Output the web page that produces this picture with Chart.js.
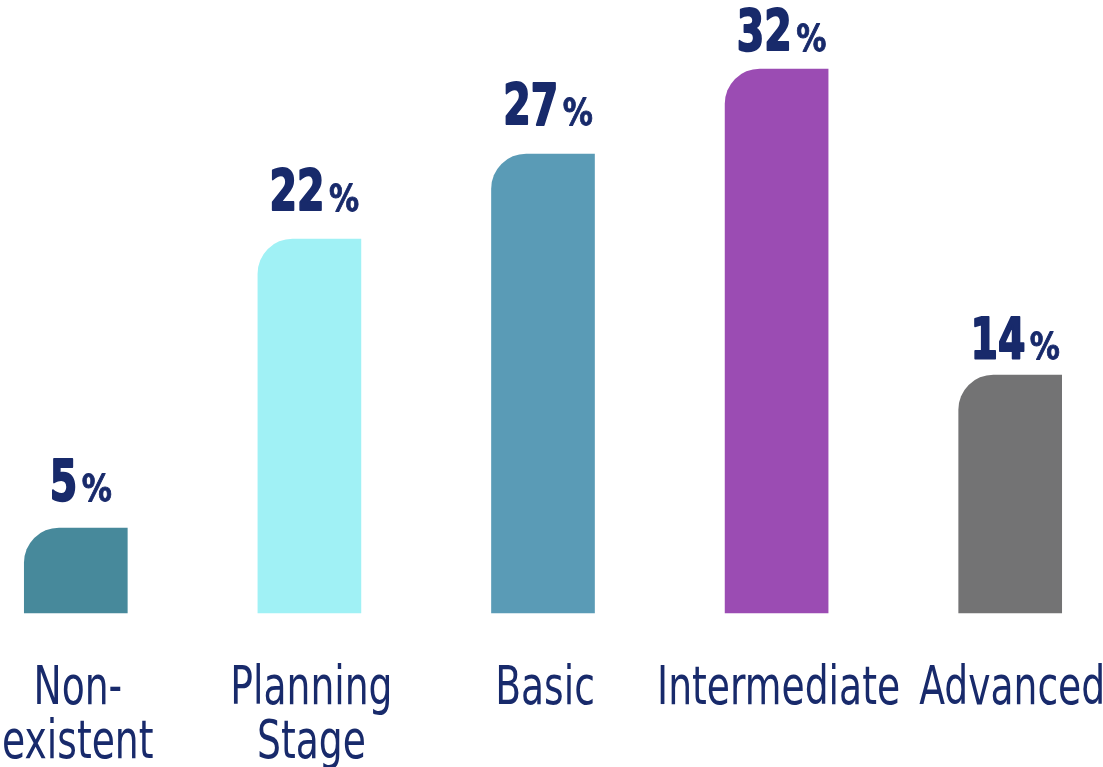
<!DOCTYPE html>
<html>
<head>
<meta charset="utf-8">
<script src="https://cdn.jsdelivr.net/npm/chart.js@4"></script>
<style>
  html, body { margin: 0; padding: 0; background: #fff; overflow: hidden; }
  #wrap { position: absolute; left: -41px; top: 0; width: 1168px; height: 767px; }
</style>
</head>
<body>
<div id="wrap"><canvas id="maturityChart"></canvas></div>
<script>
// ─── Data ─────────────────────────────────────────────────────────────────────
const categories = [['Non-', 'existent'], ['Planning', 'Stage'], ['Basic'], ['Intermediate'], ['Advanced']];
const shares = [5, 22, 27, 32, 14];
const barColors = ['#47899B', '#A0F1F5', '#5A9BB6', '#9B4CB3', '#737374'];
// how far each value label sits above its bar (px)
const labelLift = [27, 28, 29, 18, 16];

const NAVY = '#182A6B';
const FONT = "'DejaVu Sans', sans-serif";

// draws text squeezed horizontally by sx; optional outline makes it heavier
function squeezedText(ctx, text, x, y, sx, align, outline) {
    ctx.save();
    ctx.translate(x, y);
    ctx.scale(sx, 1);
    ctx.textAlign = align;
    ctx.fillText(text, 0, 0);
    if (outline) {
        ctx.lineWidth = outline;
        ctx.lineJoin = 'round';
        ctx.strokeStyle = ctx.fillStyle;
        ctx.strokeText(text, 0, 0);
    }
    ctx.restore();
}

// ─── Value labels: big number + small % sign above each bar ──────────────────
const valueLabels = {
    id: 'valueLabels',
    afterDatasetsDraw(chart) {
        const { ctx } = chart;
        const meta = chart.getDatasetMeta(0);
        const NUM_SX = 0.77, PCT_SX = 0.88, GAP = 4.5;
        ctx.save();
        ctx.fillStyle = NAVY;
        ctx.textBaseline = 'alphabetic';
        meta.data.forEach((bar, i) => {
            const num = String(shares[i]);
            ctx.font = `bold condensed 57px ${FONT}`;
            const wNum = ctx.measureText(num).width * NUM_SX;
            ctx.font = `bold condensed 38px ${FONT}`;
            const wPct = ctx.measureText('%').width * PCT_SX;
            const x0 = bar.x + 5 - (wNum + GAP + wPct) / 2;
            const y = bar.y - labelLift[i];
            ctx.font = `bold condensed 57px ${FONT}`;
            squeezedText(ctx, num, x0, y, NUM_SX, 'left', 2);
            ctx.font = `bold condensed 38px ${FONT}`;
            squeezedText(ctx, '%', x0 + wNum + GAP, y, PCT_SX, 'left', 0.8);
        });
        ctx.restore();
    }
};

// ─── Category labels under the x axis (narrow face, up to two lines) ─────────
const categoryLabels = {
    id: 'categoryLabels',
    afterDraw(chart) {
        const { ctx } = chart;
        const xs = chart.scales.x;
        ctx.save();
        ctx.fillStyle = NAVY;
        ctx.textBaseline = 'alphabetic';
        ctx.font = `condensed 53px ${FONT}`;
        categories.forEach((lines, i) => {
            const cx = xs.getPixelForTick(i) + 2;
            lines.forEach((line, j) => {
                squeezedText(ctx, line, cx, xs.top + 91 + j * 54, 0.79, 'center');
            });
        });
        ctx.restore();
    }
};

// ─── Chart ────────────────────────────────────────────────────────────────────
new Chart(document.getElementById('maturityChart'), {
    type: 'bar',
    data: {
        labels: categories,
        datasets: [{
            data: shares,
            backgroundColor: barColors,
            borderWidth: 0,
            borderSkipped: false,
            borderRadius: { topLeft: 35, topRight: 0, bottomLeft: 0, bottomRight: 0 },
            barThickness: 103,
            clip: false
        }]
    },
    options: {
        responsive: true,
        maintainAspectRatio: false,
        animation: false,
        layout: { padding: { top: 1, left: 0, right: 0, bottom: 0 } },
        plugins: { legend: { display: false }, tooltip: { enabled: false } },
        scales: {
            y: { display: false, min: 0, max: 36 },
            x: {
                grid: { display: false, drawTicks: false },
                border: { display: false },
                afterFit: s => { s.height = 154; },
                ticks: { display: false }
            }
        }
    },
    plugins: [valueLabels, categoryLabels]
});
</script>
</body>
</html>
